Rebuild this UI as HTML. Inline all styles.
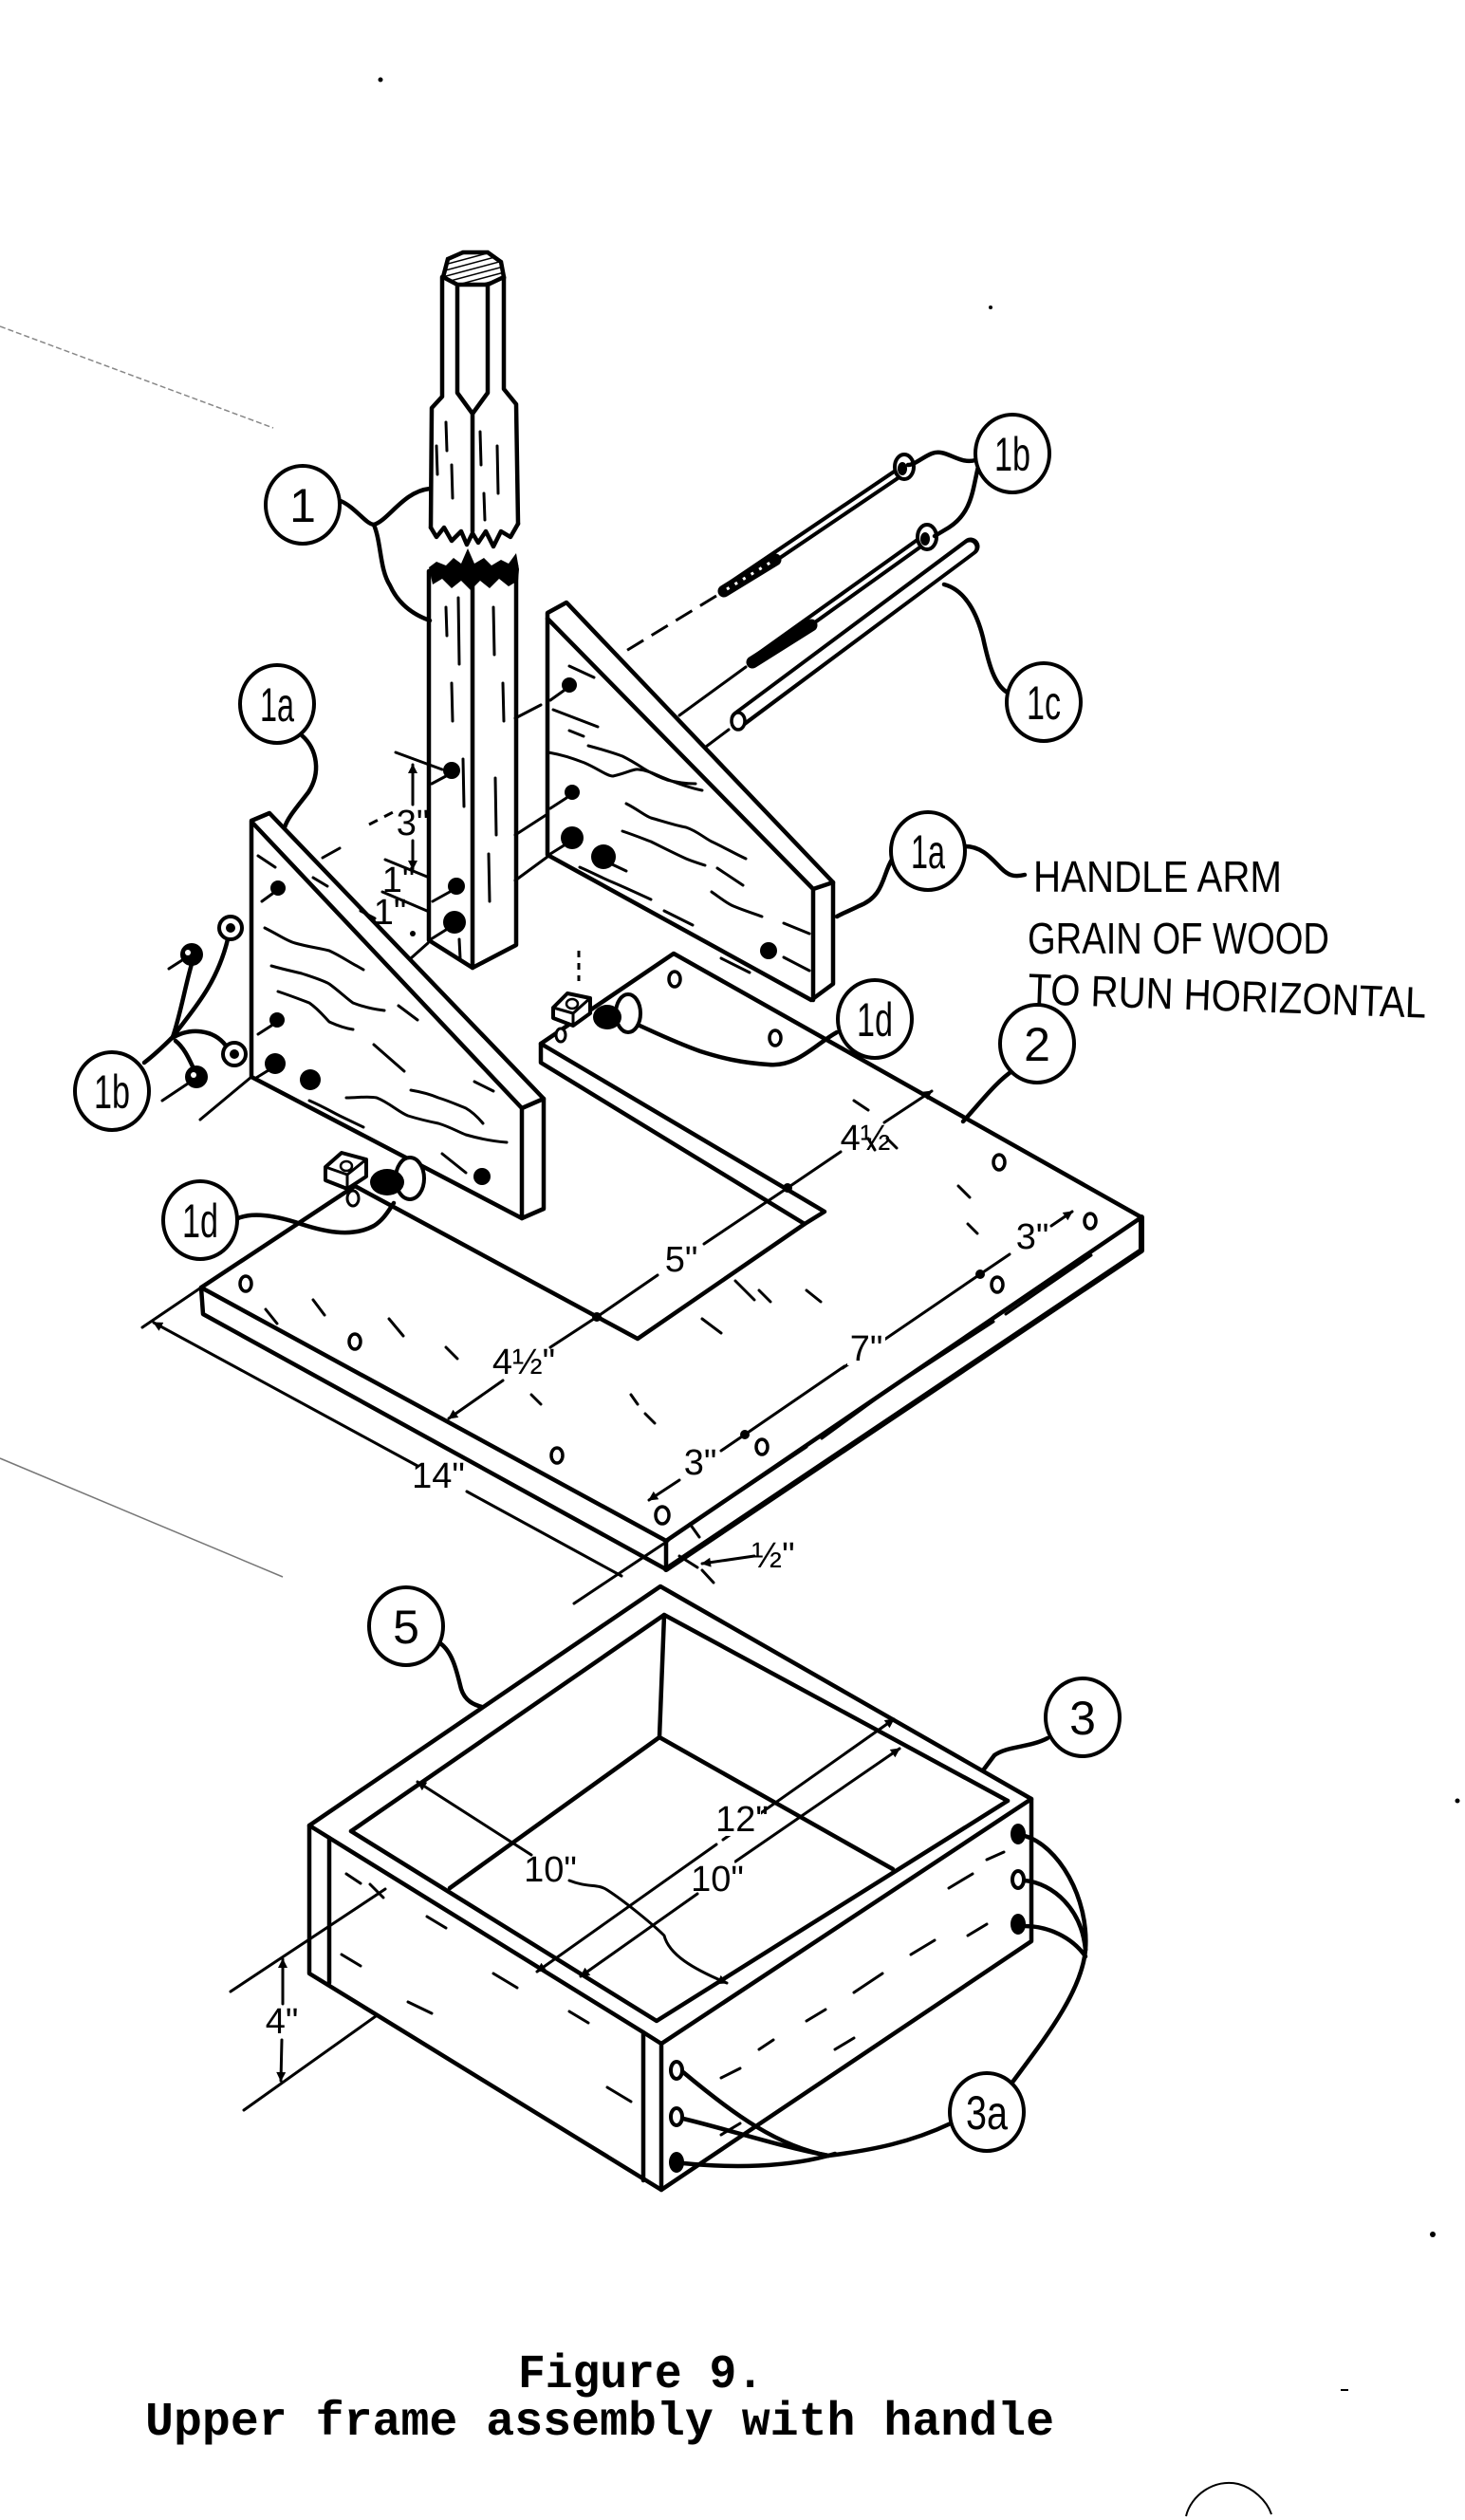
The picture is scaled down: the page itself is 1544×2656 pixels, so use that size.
<!DOCTYPE html>
<html><head><meta charset="utf-8"><style>
html,body{margin:0;padding:0;background:#fff;}
svg{display:block;}
.l{stroke:#000;stroke-width:4.5;fill:none;stroke-linecap:round;stroke-linejoin:round}
.t{stroke:#000;stroke-width:3;fill:none;stroke-linecap:round;stroke-linejoin:round}
.h{stroke:#000;stroke-width:6;fill:none;stroke-linecap:round;stroke-linejoin:round}
.c{stroke:#000;stroke-width:4;fill:#fff}
.lb{font-family:"Liberation Sans",sans-serif;font-size:50px;fill:#000;text-anchor:middle}
.dm{font-family:"Liberation Sans",sans-serif;font-size:38px;fill:#000;text-anchor:middle}
.hw{font-family:"Liberation Sans",sans-serif;font-size:46px;fill:#000}
.cap{font-family:"Liberation Mono",monospace;font-weight:bold;font-size:50px;fill:#000}
</style></head><body>
<svg width="1544" height="2656" viewBox="0 0 1544 2656" xmlns="http://www.w3.org/2000/svg">
<defs>
<marker id="ar" viewBox="0 0 10 10" refX="9" refY="5" markerWidth="14" markerHeight="10" markerUnits="userSpaceOnUse" orient="auto-start-reverse">
<path d="M0,0 L10,5 L0,10 Z" fill="#000"/>
</marker>
<pattern id="hat" width="6" height="6" patternUnits="userSpaceOnUse" patternTransform="rotate(75)">
<rect width="6" height="6" fill="#fff"/><line x1="0" y1="0" x2="0" y2="6" stroke="#000" stroke-width="3"/>
</pattern>
</defs>
<rect width="1544" height="2656" fill="#fff"/>

<!-- faint lines / specks -->
<line x1="0" y1="344" x2="288" y2="451" stroke="#888" stroke-width="1.5" stroke-dasharray="6 3"/>
<line x1="0" y1="1537" x2="298" y2="1662" stroke="#777" stroke-width="1.5"/>
<circle cx="401" cy="84" r="2.5" fill="#000"/>
<circle cx="1044" cy="324" r="2" fill="#000"/>
<circle cx="1536" cy="1898" r="2.5" fill="#000"/>
<circle cx="1510" cy="2355" r="3" fill="#000"/>
<line x1="1413" y1="2519" x2="1421" y2="2519" stroke="#000" stroke-width="2"/>
<path d="M1250,2652 C1255,2630 1280,2612 1305,2618 C1320,2622 1335,2635 1340,2650" stroke="#000" stroke-width="2" fill="none"/>

<!-- ============ POST (1) ============ -->
<polygon points="467,292 472,273 488,266 514,266 528,276 531,292 514,300 482,300" fill="url(#hat)" stroke="#000" stroke-width="4.5"/>
<path class="l" d="M466,292 L466,418 L455,430 L454,556"/>
<path class="l" d="M531,292 L531,410 L544,426 L546,552"/>
<path class="l" d="M482,300 L482,414 L498,436 L498,560"/>
<path class="l" d="M514,300 L514,414 L498,436"/>
<path class="l" d="M454,556 L460,566 L468,556 L476,570 L486,560 L492,574 L498,562 L504,572 L512,560 L520,576 L528,560 L538,566 L546,552"/>
<path class="t" d="M470,445 L471,475 M476,490 L477,525 M506,455 L507,490 M524,470 L525,520 M510,520 L511,548 M460,470 L461,500"/>
<path fill="#000" d="M452,598 L460,592 470,596 478,588 486,594 493,578 500,594 510,588 518,596 528,590 536,594 544,583 547,600 546,612 536,618 526,610 516,620 506,612 496,622 486,612 476,620 466,610 456,616 Z"/>
<path class="l" d="M452,602 L452,991 L498,1020 L544,996 L544,596"/>
<path class="l" d="M498,614 L498,1020"/>
<path class="t" d="M483,630 L484,700 M476,720 L477,760 M520,640 L521,690 M530,720 L531,760 M488,800 L489,850 M522,820 L523,880 M515,900 L516,950 M484,990 L485,1010 M470,640 L471,670"/>
<circle cx="476" cy="812" r="9" fill="#000"/>
<circle cx="481" cy="934" r="9" fill="#000"/>
<circle cx="479" cy="972" r="12" fill="#000"/>
<path class="t" d="M470,818 L455,826 M474,940 L456,950 M470,980 L454,990"/>

<!-- 3" / 1" dims on post -->
<path class="t" d="M417,793 L466,811 M406,906 L450,924 M403,940 L450,960"/>
<line class="t" x1="435" y1="848" x2="435" y2="806" marker-end="url(#ar)"/>
<line class="t" x1="435" y1="886" x2="435" y2="916" marker-end="url(#ar)"/>
<text class="dm" x="435" y="880" font-size="34">3"</text>
<text class="dm" x="420" y="940" font-size="24">1"</text>
<text class="dm" x="411" y="974" font-size="24">1"</text>
<circle cx="435" cy="984" r="3" fill="#000"/>

<!-- label 1 -->
<path class="l" d="M359,528 C375,535 385,552 394,553 C410,548 425,518 453,515"/>
<path class="l" d="M394,553 C402,572 400,600 411,617 C420,637 436,648 453,654"/>
<ellipse class="c" cx="319" cy="532" rx="39" ry="41"/>
<text class="lb" x="319" y="550">1</text>

<!-- ============ BOLTS / ROD ============ -->
<line x1="945" y1="500" x2="766" y2="621" stroke="#000" stroke-width="12" stroke-linecap="round"/>
<line x1="945" y1="500" x2="766" y2="621" stroke="#fff" stroke-width="4"/>
<line x1="763" y1="623" x2="817" y2="590" stroke="#000" stroke-width="13" stroke-linecap="round"/>
<line x1="766" y1="621" x2="815" y2="591" stroke="#fff" stroke-width="3" stroke-dasharray="3 7"/>
<ellipse cx="953" cy="492" rx="10" ry="13" fill="#fff" stroke="#000" stroke-width="4"/>
<ellipse cx="951" cy="494" rx="5" ry="7" fill="#000"/>
<line x1="755" y1="628" x2="650" y2="692" stroke="#000" stroke-width="3" stroke-dasharray="20 10"/>

<line x1="968" y1="573" x2="796" y2="696" stroke="#000" stroke-width="12" stroke-linecap="round"/>
<line x1="968" y1="573" x2="796" y2="696" stroke="#fff" stroke-width="4"/>
<line x1="793" y1="698" x2="855" y2="659" stroke="#000" stroke-width="13" stroke-linecap="round"/>
<ellipse cx="977" cy="566" rx="10" ry="13" fill="#fff" stroke="#000" stroke-width="4"/>
<ellipse cx="975" cy="568" rx="5" ry="7" fill="#000"/>
<line class="t" x1="786" y1="703" x2="716" y2="754"/>

<line x1="1023" y1="576" x2="779" y2="758" stroke="#000" stroke-width="19" stroke-linecap="round"/>
<line x1="1022" y1="577" x2="780" y2="757" stroke="#fff" stroke-width="11" stroke-linecap="round"/>
<ellipse cx="778" cy="760" rx="7" ry="9" fill="#fff" stroke="#000" stroke-width="3.5"/>
<line class="t" x1="768" y1="769" x2="740" y2="790"/>

<!-- 1b top -->
<path class="l" d="M1028,485 C1010,490 997,472 982,478 C972,482 964,490 957,490"/>
<path class="l" d="M1031,492 C1025,515 1025,540 1000,556 L985,565"/>
<ellipse class="c" cx="1067" cy="478" rx="39" ry="41"/>
<text class="lb" x="1067" y="496" textLength="38" lengthAdjust="spacingAndGlyphs">1b</text>
<!-- 1c -->
<path class="l" d="M995,616 C1018,622 1030,648 1036,672 C1042,700 1048,722 1062,730"/>
<ellipse class="c" cx="1100" cy="740" rx="39" ry="41"/>
<text class="lb" x="1100" y="758" textLength="36" lengthAdjust="spacingAndGlyphs">1c</text>

<!-- ============ RIGHT BRACKET (1a) ============ -->
<polygon points="577,646 597,635 878,930 878,1037 855,1054 577,901" fill="#fff" stroke="#000" stroke-width="4.5" stroke-linejoin="round"/>
<path class="l" d="M577,652 L857,937 L857,1054"/>
<path class="l" d="M857,937 L878,930"/>
<path class="t" d="M543,757 L570,743 M543,880 L577,858 M543,928 L577,903"/>
<g fill="#000">
<circle cx="600" cy="722" r="8"/><circle cx="603" cy="835" r="8"/><circle cx="603" cy="883" r="12"/><circle cx="636" cy="903" r="13"/><circle cx="810" cy="1002" r="9"/>
</g>
<path class="t" d="M594,728 L580,738 M597,841 L580,852 M596,890 L580,900 M643,910 L660,918"/>
<g class="t">
<path d="M600,702 L626,714"/>
<path d="M583,748 L630,766"/>
<path d="M578,793 C595,796 605,800 616,804 C630,810 640,818 646,818 C660,815 668,810 673,811 C683,812 690,816 700,820 C712,825 725,830 740,833"/>
<path d="M620,786 C635,790 648,794 656,797 C668,803 675,808 680,811 C690,817 697,820 703,822 C714,825 724,826 733,826"/>
<path d="M660,847 C672,853 680,860 686,862 C700,866 712,870 723,872 C735,876 742,883 750,887 C765,894 775,900 786,905"/>
<path d="M656,876 C668,880 678,884 686,887 C700,894 712,900 723,905 C730,908 737,910 743,912"/>
<path d="M750,940 C760,947 766,952 773,955 C785,960 795,963 803,966"/>
<path d="M826,973 L853,984 M826,1009 L853,1023"/>
<path d="M611,914 C625,920 636,926 646,930 C660,936 673,942 686,948"/>
<path d="M756,915 L783,933 M700,960 L730,975 M760,1010 L790,1025 M600,770 L615,776"/>
</g>
<!-- 1a right label -->
<path class="l" d="M940,906 C930,922 932,945 905,955 C895,960 889,962 882,966"/>
<path class="l" d="M1017,892 C1035,892 1045,905 1055,915 C1062,922 1068,925 1080,922"/>
<ellipse class="c" cx="978" cy="897" rx="39" ry="41"/>
<text class="lb" x="978" y="915" textLength="36" lengthAdjust="spacingAndGlyphs">1a</text>
<text class="hw" x="1089" y="940" textLength="262" lengthAdjust="spacingAndGlyphs">HANDLE ARM</text>
<text class="hw" x="1083" y="1005" textLength="318" lengthAdjust="spacingAndGlyphs">GRAIN OF WOOD</text>
<text class="hw" x="1083" y="1058" textLength="420" lengthAdjust="spacingAndGlyphs" transform="rotate(2 1083 1058)">TO RUN HORIZONTAL</text>

<!-- ============ BOARD (2) ============ -->
<path d="M212,1357 L374,1250 L672,1411 L848,1290 L869,1277 L570,1100 L710,1005 L1203,1283 L702,1624 Z" fill="#fff" stroke="#000" stroke-width="4.5" stroke-linejoin="round"/>
<path class="l" d="M212,1357 L214,1385 L702,1654"/>
<path class="l" d="M702,1624 L702,1654"/>
<path class="h" d="M702,1654 L1203,1318 L1203,1283"/>
<path class="l" d="M570,1100 L570,1120 L848,1290"/>
<!-- holes -->
<g fill="none" stroke="#000" stroke-width="3.5">
<ellipse cx="259" cy="1353" rx="6" ry="8"/><ellipse cx="374" cy="1414" rx="6" ry="8"/><ellipse cx="587" cy="1534" rx="6" ry="8"/>
<ellipse cx="698" cy="1597" rx="7" ry="9"/><ellipse cx="803" cy="1525" rx="6" ry="8"/><ellipse cx="1051" cy="1354" rx="6" ry="8"/>
<ellipse cx="1149" cy="1287" rx="6" ry="8"/><ellipse cx="1053" cy="1225" rx="6" ry="8"/><ellipse cx="711" cy="1032" rx="6" ry="8"/><ellipse cx="817" cy="1094" rx="6" ry="8"/>
</g>
<!-- grain specks on board -->
<path class="t" d="M280,1380 L292,1395 M330,1370 L342,1386 M410,1390 L425,1408 M470,1420 L482,1432 M560,1470 L570,1480 M740,1390 L760,1405 M775,1350 L795,1370 M850,1360 L865,1372 M900,1160 L915,1170 M935,1200 L945,1210 M1010,1250 L1022,1262 M1020,1290 L1030,1300 M665,1470 L672,1480 M680,1490 L690,1500 M800,1360 L812,1372 M915,1200 L922,1212"/>
<!-- dims on board -->
<g fill="#000"><circle cx="629" cy="1388" r="5"/><circle cx="830" cy="1252" r="5"/><circle cx="1033" cy="1343" r="5"/><circle cx="785" cy="1512" r="5"/></g>
<path class="t" d="M629,1388 L693,1344 M742,1311 L830,1252"/>
<text class="dm" x="718" y="1340">5"</text>
<path class="t" d="M830,1252 L886,1214"/>
<line class="t" x1="932" y1="1183" x2="982" y2="1150" marker-end="url(#ar)"/>
<text class="dm" x="912" y="1212">4½</text>
<line class="t" x1="629" y1="1388" x2="580" y2="1420"/>
<line class="t" x1="530" y1="1455" x2="473" y2="1495" marker-end="url(#ar)"/>
<text class="dm" x="552" y="1448">4½"</text>
<path class="t" d="M888,1442 L1033,1343 M785,1512 L890,1440"/>
<rect x="893" y="1395" width="40" height="44" fill="#fff"/>
<text class="dm" x="913" y="1434">7"</text>
<line class="t" x1="1033" y1="1343" x2="1064" y2="1322"/>
<line class="t" x1="1108" y1="1292" x2="1130" y2="1277" marker-end="url(#ar)"/>
<text class="dm" x="1088" y="1316">3"</text>
<line class="t" x1="785" y1="1512" x2="760" y2="1529"/>
<line class="t" x1="716" y1="1560" x2="684" y2="1581" marker-end="url(#ar)"/>
<text class="dm" x="738" y="1554">3"</text>
<path class="t" d="M866,1516 L940,1462 M953,1454 L1047,1393 M1060,1385 L1150,1323 M720,1612 L850,1525"/>
<!-- 14" -->
<path class="t" d="M212,1357 L150,1399 M704,1624 L605,1690"/>
<line class="t" x1="440" y1="1545" x2="162" y2="1394" marker-end="url(#ar)"/>
<line class="t" x1="492" y1="1572" x2="655" y2="1661"/>
<text class="dm" x="462" y="1568">14"</text>
<!-- 1/2" -->
<path class="t" d="M727,1606 L737,1620 M716,1640 L735,1652 M740,1655 L752,1668"/>
<line class="t" x1="795" y1="1640" x2="740" y2="1648" marker-end="url(#ar)"/>
<text class="dm" x="815" y="1652" font-size="32">½"</text>
<!-- 2 label -->
<path class="l" d="M1068,1128 C1050,1140 1035,1160 1015,1182"/>
<ellipse class="c" cx="1093" cy="1100" rx="39" ry="41"/>
<text class="lb" x="1093" y="1118">2</text>

<!-- ============ LEFT BRACKET (1a) ============ -->
<polygon points="265,865 284,857 573,1158 573,1274 550,1284 265,1135" fill="#fff" stroke="#000" stroke-width="4.5" stroke-linejoin="round"/>
<path class="l" d="M266,867 L550,1168 L550,1284"/>
<path class="l" d="M550,1168 L573,1158"/>
<g fill="#000">
<circle cx="293" cy="936" r="8"/><circle cx="292" cy="1075" r="8"/><circle cx="290" cy="1121" r="11"/><circle cx="327" cy="1138" r="11"/><circle cx="508" cy="1240" r="9"/>
</g>
<path class="t" d="M287,942 L276,950 M286,1081 L272,1090 M283,1128 L270,1136"/>
<g class="t">
<path d="M279,978 C295,986 303,992 311,994 C325,998 335,999 347,1002 C360,1008 368,1014 376,1018 L383,1022"/>
<path d="M286,1018 C300,1022 310,1024 318,1026 C330,1030 340,1033 347,1037 C358,1045 366,1053 372,1057 C385,1062 395,1064 405,1065"/>
<path d="M293,1045 C308,1050 318,1054 326,1057 C336,1064 342,1072 347,1077 C358,1082 365,1084 372,1085"/>
<path d="M394,1101 L426,1129"/>
<path d="M365,1157 C378,1157 388,1155 397,1157 C410,1162 420,1172 430,1176 C443,1180 452,1182 462,1184 C475,1188 483,1193 491,1196 C505,1200 520,1203 534,1204"/>
<path d="M433,1149 C445,1151 455,1154 462,1157 C475,1161 483,1165 491,1168 C498,1172 504,1178 509,1184"/>
<path d="M326,1160 C340,1166 350,1172 358,1176 L383,1188"/>
<path d="M466,1216 L491,1236 M272,902 L290,914 M330,925 L345,934 M420,1060 L440,1075 M500,1140 L520,1150 M380,960 L395,968"/>
</g>
<!-- connectors from left bracket to post -->
<path class="t" d="M340,904 L358,894 M433,1010 L451,994"/>
<line x1="389" y1="869" x2="420" y2="853" stroke="#000" stroke-width="3" stroke-dasharray="10 8"/>
<line class="t" x1="265" y1="1135" x2="211" y2="1180"/>
<!-- 1a left label -->
<path class="l" d="M318,775 C335,790 338,815 325,835 C312,852 303,862 300,872"/>
<ellipse class="c" cx="292" cy="742" rx="39" ry="41"/>
<text class="lb" x="292" y="760" textLength="36" lengthAdjust="spacingAndGlyphs">1a</text>

<!-- 1b nuts/washers lower -->
<path class="l" d="M152,1120 C165,1110 175,1100 182,1093"/>
<path class="l" d="M182,1093 C190,1070 195,1040 202,1016"/>
<path class="l" d="M182,1093 C200,1068 228,1040 240,990"/>
<path class="l" d="M180,1095 C200,1082 225,1085 238,1102"/>
<path class="l" d="M185,1097 C195,1105 200,1118 204,1126"/>
<circle cx="202" cy="1006" r="12" fill="#000"/>
<circle cx="198" cy="1004" r="3" fill="#fff"/>
<circle cx="243" cy="978" r="12" fill="#fff" stroke="#000" stroke-width="4"/>
<circle cx="243" cy="978" r="5" fill="#000"/>
<circle cx="247" cy="1111" r="12" fill="#fff" stroke="#000" stroke-width="4"/>
<circle cx="247" cy="1111" r="5" fill="#000"/>
<circle cx="207" cy="1135" r="12" fill="#000"/>
<circle cx="204" cy="1133" r="3" fill="#fff"/>
<path class="t" d="M192,1012 L178,1021 M198,1142 L171,1160"/>
<ellipse class="c" cx="118" cy="1150" rx="39" ry="41"/>
<text class="lb" x="118" y="1168" textLength="38" lengthAdjust="spacingAndGlyphs">1b</text>

<!-- clamp 1d left -->
<path class="l" d="M251,1284 C265,1278 285,1280 311,1288 C340,1298 370,1305 394,1292 C405,1285 410,1275 415,1268"/>
<polygon points="343,1230 360,1215 386,1222 386,1240 366,1253 343,1244" fill="#fff" stroke="#000" stroke-width="4" stroke-linejoin="round"/>
<path class="t" d="M343,1230 L366,1238 L386,1222 M366,1238 L366,1253"/>
<ellipse cx="365" cy="1229" rx="6" ry="5" fill="none" stroke="#000" stroke-width="2.5"/>
<ellipse cx="432" cy="1242" rx="15" ry="22" fill="#fff" stroke="#000" stroke-width="4"/>
<ellipse cx="408" cy="1246" rx="18" ry="14" fill="#000"/>
<ellipse cx="372" cy="1263" rx="6" ry="8" fill="#fff" stroke="#000" stroke-width="3"/>
<ellipse class="c" cx="211" cy="1286" rx="39" ry="41"/>
<text class="lb" x="211" y="1304" textLength="38" lengthAdjust="spacingAndGlyphs">1d</text>

<!-- clamp 1d right -->
<line x1="610" y1="1002" x2="610" y2="1034" stroke="#000" stroke-width="3" stroke-dasharray="7 6"/>
<path class="l" d="M882,1088 C860,1100 840,1125 810,1122 C780,1120 760,1115 738,1108 C710,1098 690,1088 672,1080"/>
<polygon points="583,1062 598,1047 622,1052 622,1068 604,1081 583,1073" fill="#fff" stroke="#000" stroke-width="4" stroke-linejoin="round"/>
<path class="t" d="M583,1062 L604,1068 L622,1052 M604,1068 L604,1081"/>
<ellipse cx="603" cy="1058" rx="6" ry="5" fill="none" stroke="#000" stroke-width="2.5"/>
<ellipse cx="662" cy="1068" rx="13" ry="20" fill="#fff" stroke="#000" stroke-width="4"/>
<ellipse cx="640" cy="1072" rx="15" ry="13" fill="#000"/>
<ellipse cx="591" cy="1091" rx="5" ry="7" fill="#fff" stroke="#000" stroke-width="3"/>
<ellipse class="c" cx="922" cy="1074" rx="39" ry="41"/>
<text class="lb" x="922" y="1092" textLength="38" lengthAdjust="spacingAndGlyphs">1d</text>

<!-- ============ BOX (3/5) ============ -->
<path d="M326,1924 L696,1672 L1087,1896 L1087,2046 L697,2308 L326,2080 Z" fill="#fff" stroke="#000" stroke-width="4.5" stroke-linejoin="round"/>
<path class="l" d="M326,1924 L347,1937 L347,2090"/>
<path class="l" d="M347,1937 L678,2142 L678,2298"/>
<path class="l" d="M678,2142 L697,2154 L697,2308"/>
<path class="l" d="M697,2154 L1087,1896"/>
<path class="l" d="M370,1930 L700,1702 L1062,1898"/>
<path class="l" d="M370,1930 L692,2130 L1062,1898"/>
<path class="l" d="M700,1702 L695,1831 L474,1990 M695,1831 L941,1970"/>
<!-- box dims -->
<line class="t" x1="762" y1="1939" x2="942" y2="1812" marker-end="url(#ar)"/>
<line class="t" x1="755" y1="1944" x2="566" y2="2078" marker-end="url(#ar)"/>
<rect x="760" y="1895" width="42" height="40" fill="#fff"/>
<text class="dm" x="782" y="1930" font-size="34">12"</text>
<line class="t" x1="775" y1="1962" x2="948" y2="1843" marker-end="url(#ar)"/>
<line class="t" x1="735" y1="1996" x2="612" y2="2083" marker-end="url(#ar)"/>
<rect x="738" y="1960" width="36" height="38" fill="#fff"/>
<text class="dm" x="756" y="1993" font-size="32">10"</text>
<line class="t" x1="560" y1="1955" x2="440" y2="1878" marker-end="url(#ar)"/>
<path class="t" d="M600,1982 C620,1990 630,1985 640,1992 C660,2005 690,2030 700,2040 C705,2060 730,2075 766,2090" marker-end="url(#ar)"/>
<rect x="562" y="1950" width="36" height="36" fill="#fff"/>
<text class="dm" x="580" y="1983" font-size="32">10"</text>
<!-- 4" -->
<path class="t" d="M243,2099 L406,1991 M257,2224 L396,2125 M390,1986 L404,2000"/>
<line class="t" x1="298" y1="2112" x2="298" y2="2065" marker-end="url(#ar)"/>
<line class="t" x1="297" y1="2150" x2="296" y2="2193" marker-end="url(#ar)"/>
<text class="dm" x="297" y="2143" font-size="34">4"</text>
<!-- box grain -->
<path class="t" d="M365,1975 L380,1985 M360,2060 L380,2072 M450,2020 L470,2032 M430,2110 L455,2122 M520,2080 L545,2095 M600,2120 L620,2132 M640,2200 L665,2215 M620,2260 L640,2272 M760,2190 L780,2180 M800,2160 L815,2150 M850,2130 L870,2118 M900,2100 L930,2080 M960,2060 L985,2045 M1000,1990 L1025,1975 M1020,2040 L1040,2028 M880,2160 L900,2148 M760,2250 L780,2238 M1040,1960 L1058,1952"/>
<!-- 5 -->
<path class="l" d="M464,1732 C478,1742 482,1765 486,1780 C490,1793 500,1797 508,1799"/>
<ellipse class="c" cx="428" cy="1714" rx="39" ry="41"/>
<text class="lb" x="428" y="1732">5</text>
<!-- 3 -->
<path class="l" d="M1104,1832 C1085,1842 1062,1840 1048,1850 L1036,1866"/>
<ellipse class="c" cx="1141" cy="1810" rx="39" ry="41"/>
<text class="lb" x="1141" y="1828">3</text>
<!-- 3a holes and leaders -->
<g fill="#000" stroke="#000" stroke-width="2">
<ellipse cx="1073" cy="1933" rx="7" ry="10"/><ellipse cx="1073" cy="1981" rx="6" ry="9" fill="#fff" stroke-width="4"/><ellipse cx="1073" cy="2028" rx="7" ry="10"/>
<ellipse cx="713" cy="2182" rx="6" ry="9" fill="#fff" stroke-width="4"/><ellipse cx="713" cy="2231" rx="6" ry="9" fill="#fff" stroke-width="4"/><ellipse cx="713" cy="2279" rx="7" ry="10"/>
</g>
<path class="l" d="M1066,2196 C1100,2150 1140,2100 1144,2055"/>
<path class="l" d="M1144,2055 C1148,2000 1115,1945 1080,1935"/>
<path class="l" d="M1144,2055 C1140,2012 1110,1985 1080,1982"/>
<path class="l" d="M1144,2062 C1130,2042 1105,2030 1080,2030"/>
<path class="l" d="M1002,2238 C960,2258 920,2266 873,2272"/>
<path class="l" d="M873,2272 C820,2262 775,2230 720,2184"/>
<path class="l" d="M873,2272 C820,2262 770,2245 720,2233"/>
<path class="l" d="M880,2270 C830,2285 770,2285 720,2280"/>
<ellipse class="c" cx="1040" cy="2226" rx="39" ry="41"/>
<text class="lb" x="1040" y="2244" textLength="44" lengthAdjust="spacingAndGlyphs">3a</text>

<!-- ============ CAPTION ============ -->
<text class="cap" x="546" y="2516" textLength="259" lengthAdjust="spacingAndGlyphs">Figure 9.</text>
<text class="cap" x="153" y="2566" textLength="958" lengthAdjust="spacingAndGlyphs">Upper frame assembly with handle</text>
</svg>
</body></html>
